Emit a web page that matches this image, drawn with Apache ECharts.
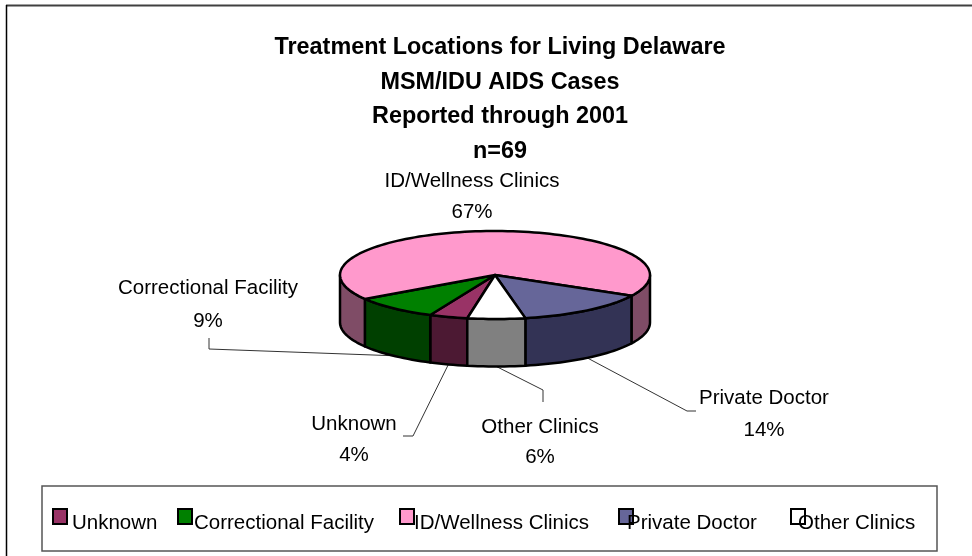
<!DOCTYPE html>
<html>
<head>
<meta charset="utf-8">
<style>html,body{margin:0;padding:0;background:#fff}#c{width:972px;height:556px}</style>
<script src="https://cdn.jsdelivr.net/npm/echarts@6/dist/echarts.min.js"></script>
</head>
<body>
<div id="c"></div>
<script>
const categories = ['Unknown', 'Correctional Facility', 'ID/Wellness Clinics', 'Private Doctor', 'Other Clinics'];
const percents = [4, 9, 67, 14, 6];
const titleLines = ['Treatment Locations for Living Delaware', 'MSM/IDU AIDS Cases', 'Reported through 2001', 'n=69'];
const topColors = ['#993366', '#008000', '#FF99CC', '#666699', '#FFFFFF'];
const sideColors = ['#4C1933', '#004000', '#7F4C66', '#333355', '#808080'];

// layout only
const FONT = '"Liberation Sans", Arial, sans-serif';
const PIE = { cx: 495, cy: 275, rx: 155, ry: 44, depth: 47.5, start: 10.3 };
const labelPos = [[354, 424, 455], [208, 288, 321], [472, 181, 212], [764, 398, 430], [540, 427, 457]];
const elbows = [
  [[403, 436], [413, 436]],
  [[209, 338], [209, 349]],
  null,
  [[696, 411], [687, 411]],
  [[543, 402], [543, 390]]
];
const legendPos = [[52, 0], [177, 3], [399, 5], [618, 11], [790, 12]];

const total = percents.reduce((a, b) => a + b, 0);
function pt(deg, dy) {
  const t = deg * Math.PI / 180;
  return [PIE.cx - PIE.rx * Math.sin(t), PIE.cy + PIE.ry * Math.cos(t) + (dy || 0)];
}
function arc(a, b, dy) {
  const n = Math.max(2, Math.ceil(Math.abs(b - a) / 2));
  const out = [];
  for (let i = 0; i <= n; i++) out.push(pt(a + (b - a) * i / n, dy));
  return out;
}
function renderSlice(index) {
  return function (params, api) {
    const value = api.value(0);
    let before = 0;
    for (let i = 0; i < index; i++) before += percents[i];
    const a = PIE.start + before / total * 360;
    const b = a + value / total * 360;
    const mid = (a + b) / 2;
    const children = [];
    const line = { stroke: '#000', lineWidth: 2.5, lineJoin: 'round' };
    // leader line ends on the rim, at the middle of the slice
    if (elbows[index]) {
      children.push({
        type: 'polyline',
        shape: { points: elbows[index].concat([pt(mid, PIE.depth)]) },
        style: { stroke: '#333', lineWidth: 1, fill: null }
      });
    }
    // visible outer wall
    [[-90, 90], [270, 450]].forEach(function (win) {
      const s = Math.max(a, win[0]), e = Math.min(b, win[1]);
      if (e > s) {
        children.push({
          type: 'polygon',
          shape: { points: arc(s, e, 0).concat(arc(e, s, PIE.depth)) },
          style: Object.assign({ fill: sideColors[index] }, line)
        });
      }
    });
    // top face
    children.push({
      type: 'polygon',
      shape: { points: [[PIE.cx, PIE.cy]].concat(arc(a, b, 0)) },
      style: Object.assign({ fill: topColors[index] }, line)
    });
    // label
    const p = labelPos[index];
    [[categories[index], p[1]], [Math.round(value / total * 100) + '%', p[2]]].forEach(function (t) {
      children.push({
        type: 'text', x: p[0], y: t[1],
        style: { text: t[0], fill: '#000', font: '20.5px ' + FONT, align: 'center', verticalAlign: 'middle' }
      });
    });
    return { type: 'group', children: children };
  };
}

const chart = echarts.init(document.getElementById('c'), null, { renderer: 'canvas' });
chart.setOption({
  animation: false,
  backgroundColor: '#fff',
  title: {
    text: titleLines.join('\n'),
    left: 495, top: 25, textAlign: 'center',
    textStyle: { fontFamily: FONT, fontSize: 23.4, fontWeight: 'bold', color: '#000', lineHeight: 34.7 }
  },
  legend: categories.map(function (name, i) {
    return {
      data: [name], left: legendPos[i][0], top: 499, padding: 0,
      itemWidth: 14, itemHeight: 15, selectedMode: false, icon: 'rect',
      itemStyle: { borderColor: '#000', borderWidth: 2 },
      formatter: '\n{name}',
      textStyle: { fontFamily: FONT, fontSize: 20.5, color: '#000', lineHeight: 14, padding: [0, 0, 0, -legendPos[i][1]] }
    };
  }),
  graphic: [
    { type: 'line', shape: { x1: 6, y1: 5.5, x2: 972, y2: 5.5 }, style: { stroke: '#404040', lineWidth: 2 }, silent: true },
    { type: 'line', shape: { x1: 6.5, y1: 5, x2: 6.5, y2: 556 }, style: { stroke: '#000', lineWidth: 1.5 }, silent: true },
    { type: 'rect', shape: { x: 42, y: 486, width: 895, height: 65 }, style: { fill: null, stroke: '#555', lineWidth: 1.5 }, silent: true }
  ],
  series: categories.map(function (name, i) {
    return {
      type: 'custom', name: name, coordinateSystem: 'none', silent: true,
      itemStyle: { color: topColors[i] },
      data: [[percents[i]]],
      renderItem: renderSlice(i)
    };
  })
});
</script>
</body>
</html>
